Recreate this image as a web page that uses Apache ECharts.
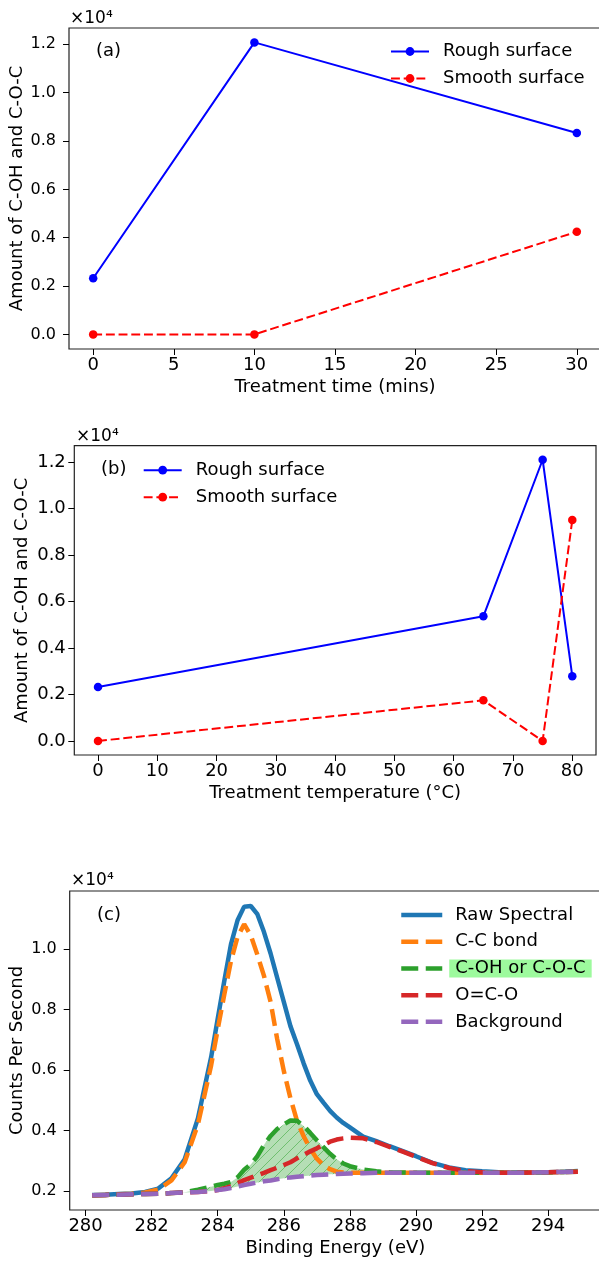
<!DOCTYPE html>
<html lang="en">
<head>
    <meta charset="UTF-8">
    <title>C-OH and C-O-C amount / C1s spectrum</title>
    <script src="https://cdn.jsdelivr.net/npm/echarts@6/dist/echarts.min.js"></script>
    <style>
        html, body {
            margin: 0;
            padding: 0;
            background: #fff;
        }

        #chart {
            width: 599px;
            height: 1262px;
        }
    </style>
</head>
<body>
<div id="chart"></div>
<script>
    // (a) amount vs treatment time
    var timeMins = [0, 10, 30]
    var roughByTime = [2320, 12080, 8330]
    var smoothByTime = [0, 0, 4245]

    // (b) amount vs treatment temperature
    var tempC = [0, 65, 75, 80]
    var roughByTemp = [2315, 5360, 12090, 2785]
    var smoothByTemp = [0, 1745, 0, 9500]

    // (c) C1s spectrum and fitted components (counts per second)
    var energy = [280.2, 280.6, 281.0, 281.4, 281.8, 282.2, 282.6, 283.0, 283.4, 283.8,
        284.0, 284.2, 284.4, 284.6, 284.8, 285.0, 285.2, 285.4, 285.6, 285.8,
        286.0, 286.2, 286.4, 286.6, 286.8, 287.0, 287.2, 287.4, 287.6, 287.8,
        288.0, 288.4, 288.8, 289.2, 289.6, 290.0, 290.5, 291.0, 291.5, 292.0,
        292.5, 293.0, 293.5, 294.0, 294.5, 294.9]
    var rawSpectral = [1870, 1880, 1900, 1920, 1970, 2080, 2420, 3050, 4400, 6420,
        7700, 8950, 10150, 10950, 11400, 11420, 11150, 10560, 9850, 9050,
        8250, 7450, 6850, 6220, 5650, 5200, 4920, 4650, 4430, 4250,
        4100, 3800, 3650, 3480, 3320, 3150, 2930, 2780, 2690, 2650,
        2620, 2610, 2610, 2620, 2640, 2660]
    var ccBond = [1860, 1870, 1890, 1910, 1950, 2050, 2350, 2950, 4200, 6150,
        7350, 8500, 9600, 10400, 10820, 10450, 9810, 9110, 8250, 7020,
        5970, 5070, 4320, 3810, 3400, 3070, 2850, 2720, 2640, 2610,
        2600, 2600, 2600, 2600, 2600, 2600, 2600, 2600, 2600, 2600,
        2600, 2600, 2610, 2620, 2630, 2640]
    var cohBond = [1860, 1870, 1880, 1890, 1900, 1910, 1930, 1960, 2040, 2140,
        2200, 2240, 2300, 2450, 2700, 2880, 3150, 3520, 3820, 4050,
        4200, 4330, 4320, 4150, 3920, 3680, 3450, 3230, 3050, 2910,
        2820, 2710, 2650, 2620, 2610, 2600, 2600, 2600, 2600, 2600,
        2600, 2600, 2610, 2620, 2630, 2640]
    var ocoBond = [1860, 1870, 1880, 1890, 1900, 1910, 1930, 1950, 1970, 2000,
        2030, 2090, 2160, 2260, 2360, 2440, 2520, 2600, 2690, 2770,
        2860, 2950, 3080, 3200, 3310, 3410, 3520, 3630, 3700, 3740,
        3760, 3740, 3620, 3460, 3300, 3130, 2920, 2760, 2660, 2620,
        2600, 2600, 2610, 2620, 2630, 2640]
    var background = [1860, 1870, 1880, 1890, 1900, 1910, 1930, 1950, 1970, 2000,
        2030, 2060, 2100, 2150, 2200, 2240, 2280, 2320, 2350, 2390,
        2420, 2450, 2470, 2490, 2510, 2530, 2540, 2550, 2560, 2570,
        2580, 2590, 2600, 2600, 2600, 2600, 2600, 2600, 2600, 2600,
        2600, 2600, 2610, 2620, 2630, 2640]

    // tick positions
    var timeTicks = [0, 5, 10, 15, 20, 25, 30]
    var tempTicks = [0, 10, 20, 30, 40, 50, 60, 70, 80]
    var energyTicks = [280, 282, 284, 286, 288, 290, 292, 294]
    var amountTicks = [0, 2000, 4000, 6000, 8000, 10000, 12000]
    var countTicks = [2000, 4000, 6000, 8000, 10000]

    var FONT = '"DejaVu Sans", Verdana, sans-serif'
    var DASH_C = [17, 7.5]

    function pairs (xs, ys) {
        return xs.map(function (x, i) { return [x, ys[i]] })
    }

    // '/' hatch lines on a transparent tile
    function hatchPattern () {
        var c = document.createElement('canvas')
        var s = 11
        c.width = s
        c.height = s
        var ctx = c.getContext('2d')
        ctx.strokeStyle = 'rgba(44,160,44,0.5)'
        ctx.lineWidth = 1
        ctx.beginPath()
        ctx.moveTo(0, s)
        ctx.lineTo(s, 0)
        ctx.moveTo(-s, s)
        ctx.lineTo(0, 0)
        ctx.moveTo(s, 2 * s)
        ctx.lineTo(2 * s, s)
        ctx.stroke()
        return c
    }
    var hatchCanvas = hatchPattern()

    function grid (left, top, width, height) {
        return {
            left: left, top: top, width: width, height: height,
            outerBoundsMode: 'none', containLabel: false,
            show: true, borderColor: '#222', borderWidth: 1.2
        }
    }

    function xAxis (gridIdx, min, max, ticks, name) {
        return {
            type: 'value', gridIndex: gridIdx, min: min, max: max,
            axisLine: {show: false, onZero: false},
            axisTick: {show: true, length: 6, customValues: ticks, lineStyle: {color: '#000', width: 1}},
            axisLabel: {customValues: ticks, margin: 7, fontSize: 18, fontFamily: FONT, color: '#000'},
            splitLine: {show: false},
            name: name, nameLocation: 'middle', nameGap: 29,
            nameTextStyle: {fontSize: 18, fontFamily: FONT, color: '#000'}
        }
    }

    function yAxis (gridIdx, min, max, ticks, name, labelSize, labelMargin, nameGap) {
        return {
            type: 'value', gridIndex: gridIdx, min: min, max: max,
            axisLine: {show: false, onZero: false},
            axisTick: {show: true, length: 6, customValues: ticks, lineStyle: {color: '#000', width: 1}},
            axisLabel: {
                customValues: ticks, margin: labelMargin, fontSize: labelSize, fontFamily: FONT, color: '#000',
                formatter: function (v) { return (v / 10000).toFixed(1) }
            },
            splitLine: {show: false},
            name: name, nameLocation: 'middle', nameGap: nameGap, nameRotate: 90, nameMoveOverlap: false,
            nameTextStyle: {fontSize: 18, fontFamily: FONT, color: '#000'}
        }
    }

    function surfaceLegend (left, top) {
        return {
            orient: 'vertical', left: left, top: top, padding: 0, itemGap: 0,
            itemWidth: 38, itemHeight: 11,
            textStyle: {fontSize: 18, fontFamily: FONT, color: '#000', lineHeight: 27, padding: [0, 0, 0, 9]},
            data: [
                {name: 'Rough surface', lineStyle: {width: 2, type: 'solid'}},
                {name: 'Smooth surface', lineStyle: {width: 2, type: [8.9, 3.8]}}
            ]
        }
    }

    function surfaceSeries (idx, xs, rough, smooth) {
        return [{
            name: 'Rough surface', type: 'line', xAxisIndex: idx, yAxisIndex: idx,
            data: pairs(xs, rough), symbol: 'circle', symbolSize: 8.5,
            lineStyle: {color: '#0000ff', width: 2},
            itemStyle: {color: '#0000ff'}
        }, {
            name: 'Smooth surface', type: 'line', xAxisIndex: idx, yAxisIndex: idx,
            data: pairs(xs, smooth), symbol: 'circle', symbolSize: 8.5,
            lineStyle: {color: '#ff0000', width: 2, type: [8.9, 3.8]},
            itemStyle: {color: '#ff0000'}
        }]
    }

    function componentSeries (name, values, color, dashed) {
        return {
            name: name, type: 'line', xAxisIndex: 2, yAxisIndex: 2,
            data: pairs(energy, values), symbol: 'none',
            lineStyle: {color: color, width: 4.5, type: dashed ? DASH_C : 'solid'},
            itemStyle: {color: color}
        }
    }

    // shaded region between C-OH curve and background
    var cohFill = {
        type: 'custom', xAxisIndex: 2, yAxisIndex: 2, silent: true,
        data: [[energy[0], background[0]]],
        renderItem: function (params, api) {
            var upper = energy.map(function (x, i) { return api.coord([x, cohBond[i]]) })
            var lower = energy.map(function (x, i) { return api.coord([x, background[i]]) }).reverse()
            var pts = upper.concat(lower)
            return {
                type: 'group',
                children: [
                    {type: 'polygon', shape: {points: pts}, style: {fill: 'rgba(44,160,44,0.35)'}},
                    {type: 'polygon', shape: {points: pts}, style: {fill: {image: hatchCanvas, repeat: 'repeat'}}}
                ]
            }
        }
    }

    var chart = echarts.init(document.getElementById('chart'))
    var option = {
        animation: false,
        backgroundColor: '#fff',
        grid: [
            grid(69, 28, 532, 321),
            grid(74.3, 445.7, 521.7, 309.3),
            grid(69.7, 891, 531.3, 319)
        ],
        xAxis: [
            xAxis(0, -1.5, 31.5, timeTicks, 'Treatment time (mins)'),
            xAxis(1, -4, 84, tempTicks, 'Treatment temperature (°C)'),
            xAxis(2, 279.52, 295.6, energyTicks, 'Binding Energy (eV)')
        ],
        yAxis: [
            yAxis(0, -605, 12675, amountTicks, 'Amount of C-OH and C-O-C', 16, 13, 42.5),
            yAxis(1, -604, 12694, amountTicks, 'Amount of C-OH and C-O-C', 18, 8.5, 42.8),
            yAxis(2, 1372, 11917, countTicks, 'Counts Per Second', 16, 13, 43.2)
        ],
        legend: [
            surfaceLegend(390, 38),
            surfaceLegend(142.7, 456.7),
            {
                orient: 'vertical', left: 399, top: 901.7, padding: 0, itemGap: 0,
                itemWidth: 41, itemHeight: 12,
                itemStyle: {opacity: 0},
                formatter: function (name) {
                    return name === 'C-OH or C-O-C' ? '{hl|' + name + '}' : '{n|' + name + '}'
                },
                textStyle: {
                    fontSize: 18, fontFamily: FONT, color: '#000', lineHeight: 26.7, padding: [0, 0, 0, 2],
                    rich: {
                        n: {fontSize: 18, fontFamily: FONT, color: '#000', lineHeight: 26.7, padding: [0, 0, 0, 6]},
                        hl: {
                            fontSize: 18, fontFamily: FONT, color: '#000', lineHeight: 26.7,
                            backgroundColor: '#9dfa9d', padding: [0, 6, 0, 6]
                        }
                    }
                },
                data: [
                    {name: 'Raw Spectral', lineStyle: {width: 4.5, type: 'solid'}},
                    {name: 'C-C bond', lineStyle: {width: 4.5, type: DASH_C}},
                    {name: 'C-OH or C-O-C', lineStyle: {width: 4.5, type: DASH_C}},
                    {name: 'O=C-O', lineStyle: {width: 4.5, type: DASH_C}},
                    {name: 'Background', lineStyle: {width: 4.5, type: DASH_C}}
                ]
            }
        ],
        graphic: [
            {type: 'text', left: 70, top: 10, style: {text: '×10⁴', font: '17px ' + FONT, fill: '#000'}},
            {type: 'text', left: 76, top: 428, style: {text: '×10⁴', font: '17px ' + FONT, fill: '#000'}},
            {type: 'text', left: 71, top: 872, style: {text: '×10⁴', font: '17px ' + FONT, fill: '#000'}},
            {type: 'text', left: 96, top: 42, style: {text: '(a)', font: '18px ' + FONT, fill: '#000'}},
            {type: 'text', left: 101, top: 460, style: {text: '(b)', font: '18px ' + FONT, fill: '#000'}},
            {type: 'text', left: 97, top: 906, style: {text: '(c)', font: '18px ' + FONT, fill: '#000'}}
        ],
        series: []
            .concat(surfaceSeries(0, timeMins, roughByTime, smoothByTime))
            .concat(surfaceSeries(1, tempC, roughByTemp, smoothByTemp))
            .concat([cohFill])
            .concat([
                componentSeries('Raw Spectral', rawSpectral, '#1f77b4', false),
                componentSeries('C-C bond', ccBond, '#ff7f0e', true),
                componentSeries('C-OH or C-O-C', cohBond, '#2ca02c', true),
                componentSeries('O=C-O', ocoBond, '#d62728', true),
                componentSeries('Background', background, '#9467bd', true)
            ])
    }
    chart.setOption(option)
</script>
</body>
</html>
